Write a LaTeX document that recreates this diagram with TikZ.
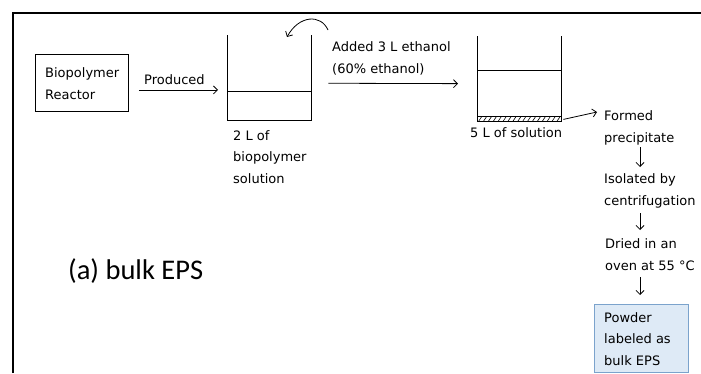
\documentclass[tikz,border=0pt]{standalone}
\usepackage{fontspec}
\setmainfont{DejaVu Sans}
\newfontfamily\calib{Carlito}
\usetikzlibrary{arrows.meta}
\definecolor{boxfill}{HTML}{DEEAF6}
\definecolor{boxdraw}{HTML}{7BA3CC}
\begin{document}
\begin{tikzpicture}[x=1pt,y=-1pt,
  txt/.style={font=\fontsize{13}{21.5}\selectfont, align=left, inner sep=0pt, anchor=base west},
  arr/.style={-{Straight Barb[length=4pt,width=8pt]}, line width=0.8pt},
  wall/.style={line width=0.9pt},
  vessel/.style={minimum width=84pt, minimum height=85pt, inner sep=0pt, anchor=north west}]
\useasboundingbox (0,0) rectangle (701,373);
% frame
\draw[line width=1.5pt] (13,373) -- (13,13) -- (701,13);
% reactor
\node[draw, line width=0.9pt, minimum width=93pt, minimum height=57pt, anchor=north west, inner sep=0pt] (reactor) at (35,54) {};
\node[txt] (reactortxt) at (45,99) {Biopolymer\\Reactor};
% beaker 1
\node[vessel] (b1) at (227,35) {};
\draw[wall] (b1.north west) -- (b1.south west) -- (b1.south east) -- (b1.north east);
\draw[wall] ([yshift=-56pt]b1.north west) -- ([yshift=-56pt]b1.north east);
\node[txt] (b1txt) at (233,183) {2 L of\\biopolymer\\solution};
% produced arrow
\draw[arr, shorten <=10pt, shorten >=9pt] ([yshift=-7pt]reactor.east) -- ([yshift=-7pt]b1.west |- reactor.east);
\node[txt] (prodtxt) at (144,84) {Produced};
% beaker 2
\node[vessel] (b2) at (477,36) {};
\draw[wall] (b2.north west) -- (b2.south west) -- (b2.south east) -- (b2.north east);
\draw[wall] ([yshift=-34pt]b2.north west) -- ([yshift=-34pt]b2.north east);
\draw[line width=0.6pt] ([yshift=5pt]b2.south west) -- ([yshift=5pt]b2.south east);
\foreach \i in {0,...,16} {
  \draw[line width=0.6pt] ([xshift={1.5pt+\i*4.9pt}]b2.south west) -- ([xshift={4.5pt+\i*4.9pt},yshift=4.5pt]b2.south west);
}
\node[txt] (b2txt) at (470,137) {5 L of solution};
% added arrow
\draw[arr, shorten <=17pt, shorten >=19pt] ([yshift=-5.5pt]b1.east) -- ([yshift=-5pt]b2.west);
\node[txt] (addtxt) at (332,73) {Added 3 L ethanol\\(60\% ethanol)};
% curved arrow
\coordinate (cs) at (328,30);
\coordinate (ce) at (287,37);
\draw[arr] (cs) .. controls (321,14) and (299,15) .. (ce);
% precipitate
\node[txt] (formed) at (604,142) {Formed\\precipitate};
\coordinate (fe) at (597,112);
\draw[arr] ([xshift=2pt,yshift=2pt]b2.south east) -- (fe);
\node[txt] (iso) at (604,205) {Isolated by\\centrifugation};
\node[txt] (dried) at (605,270) {Dried in an\\oven at 55 °C};
\node[draw=boxdraw, fill=boxfill, line width=1pt, minimum width=94pt, minimum height=68pt, anchor=north west, inner sep=0pt] (powder) at (594,304) {};
\node[txt] (powdertxt) at (604,365) {Powder\\labeled as\\bulk EPS};
\coordinate (d1s) at (640,147); \coordinate (d1e) at (640,167);
\coordinate (d2s) at (640,213); \coordinate (d2e) at (640,230);
\coordinate (d3s) at (640,277); \coordinate (d3e) at (640,295);
\draw[arr] (d1s) -- (d1e);
\draw[arr] (d2s) -- (d2e);
\draw[arr] (d3s) -- (d3e);
% caption
\node[font=\calib\fontsize{28.5}{32}\selectfont, inner sep=0pt, anchor=base west] (cap) at (68,279) {(a) bulk EPS};
\end{tikzpicture}
\end{document}
